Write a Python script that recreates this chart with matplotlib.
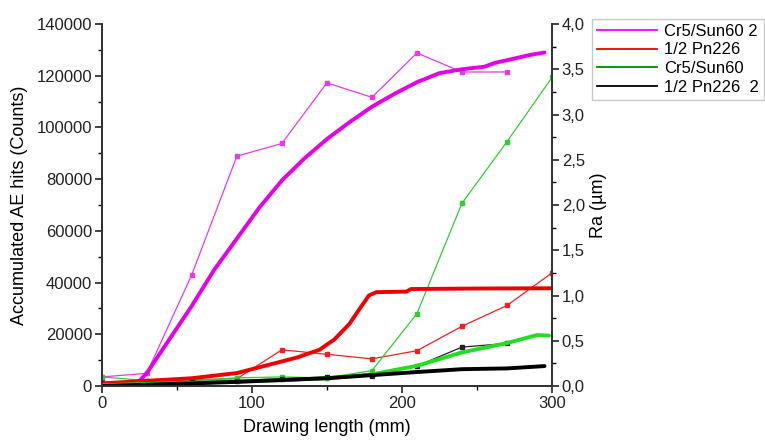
import numpy as np
import matplotlib.pyplot as plt
from matplotlib.lines import Line2D
from matplotlib.ticker import MultipleLocator, FuncFormatter

plt.rcParams['font.family'] = ['Liberation Sans', 'DejaVu Sans']

# Accumulated AE hits (left axis), thick lines
ae_mag_x = [22, 30, 45, 60, 75, 90, 105, 120, 135, 150, 165, 180, 195, 210, 225, 240, 255, 262, 270, 285, 295]
ae_mag_y = [0, 5000, 18000, 31000, 45000, 57000, 69000, 79500, 88000, 95500, 102000, 108000, 113000, 117500, 121000, 122500, 123500, 125000, 126000, 128000, 129000]
ae_red_x = [0, 30, 60, 90, 110, 130, 145, 155, 165, 172, 178, 183, 203, 206, 250, 300]
ae_red_y = [1000, 2000, 3000, 5000, 8000, 11000, 14000, 18000, 24000, 30000, 35000, 36300, 36500, 37500, 37700, 37800]
ae_grn_x = [0, 30, 60, 90, 120, 150, 180, 210, 240, 270, 290, 298]
ae_grn_y = [300, 800, 1200, 1700, 2300, 3000, 4500, 7800, 13000, 16600, 19700, 19500]
ae_blk_x = [0, 30, 60, 90, 120, 150, 180, 210, 240, 270, 295]
ae_blk_y = [0, 500, 1000, 1600, 2300, 3000, 4200, 5400, 6500, 6800, 7700]

# Ra (right axis), thin lines with markers
ra_x = [0, 30, 60, 90, 120, 150, 180, 210, 240, 270, 300]
ra_mag = [0.1, 0.14, 1.23, 2.54, 2.68, 3.35, 3.19, 3.68, 3.47, 3.47]
ra_red = [0.04, 0.05, 0.07, 0.08, 0.40, 0.35, 0.30, 0.39, 0.66, 0.89, 1.25]
ra_grn = [0.1, 0.06, 0.06, 0.09, 0.10, 0.09, 0.17, 0.80, 2.02, 2.70, 3.41]
ra_blk = [0.03, 0.04, 0.05, 0.06, 0.08, 0.10, 0.11, 0.22, 0.43, 0.47]

legend_labels = ['Cr5/Sun60 2', '1/2 Pn226', 'Cr5/Sun60', '1/2 Pn226  2']
legend_colors = ['#ff00ff', '#ee0000', '#008800', '#000000']

fig = plt.figure(figsize=(7.65, 4.45), dpi=100)
ax = fig.add_axes([0.133, 0.1326, 0.5886, 0.8134])
ax2 = ax.twinx()

ax2.plot(ra_x[:len(ra_mag)], ra_mag, '-s', color='#e63ce6', lw=0.9, ms=3)
ax2.plot(ra_x, ra_red, '-s', color='#ee2222', lw=0.9, ms=3)
ax2.plot(ra_x, ra_grn, '-s', color='#33cc33', lw=0.9, ms=3)
ax2.plot(ra_x[:len(ra_blk)], ra_blk, '-s', color='#222222', lw=0.9, ms=3)

ax2.plot(ae_mag_x, np.array(ae_mag_y) / 35000, color='#e600e6', lw=2.8, solid_capstyle='round')
ax2.plot(ae_red_x, np.array(ae_red_y) / 35000, color='#ee0000', lw=2.8, solid_capstyle='round')
ax2.plot(ae_grn_x, np.array(ae_grn_y) / 35000, color='#22dd22', lw=2.8, solid_capstyle='round')
ax2.plot(ae_blk_x, np.array(ae_blk_y) / 35000, color='#000000', lw=2.8, solid_capstyle='round')

ax.set_xlim(0, 300)
ax.set_ylim(0, 140000)
ax2.set_ylim(0, 4.0)
ax.xaxis.set_major_locator(MultipleLocator(100))
ax.xaxis.set_minor_locator(MultipleLocator(50))
ax.yaxis.set_major_locator(MultipleLocator(20000))
ax.yaxis.set_minor_locator(MultipleLocator(10000))
ax2.yaxis.set_major_locator(MultipleLocator(0.5))
ax2.yaxis.set_minor_locator(MultipleLocator(0.25))
ax2.yaxis.set_major_formatter(FuncFormatter(lambda v, p: f'{v:.1f}'.replace('.', ',')))

for a in (ax, ax2):
    a.spines['top'].set_visible(False)
    a.tick_params(which='major', direction='out', length=5, width=1.2, labelsize=12,
                  pad=2, colors='#222222')
    a.tick_params(which='minor', direction='out', length=3, width=1.0)
    for s in a.spines.values():
        s.set_linewidth(1.3)
        s.set_color('#333333')

ax.set_xlabel('Drawing length (mm)', fontsize=13, labelpad=6)
ax.set_ylabel('Accumulated AE hits (Counts)', fontsize=13, labelpad=6)
ax2.set_ylabel('Ra (µm)', fontsize=13, labelpad=4)

handles = [Line2D([0], [0], color=c, lw=1.3) for c in legend_colors]
leg = fig.legend(handles, legend_labels, loc='upper left', bbox_to_anchor=(0.774, 0.958),
                 fontsize=12, frameon=True, fancybox=False, handlelength=3.6,
                 handletextpad=0.4, labelspacing=0.22, borderpad=0.3, borderaxespad=0)
leg.get_frame().set_edgecolor('#bbbbbb')
leg.get_frame().set_linewidth(1.0)

fig.savefig('out.png', dpi=100)
